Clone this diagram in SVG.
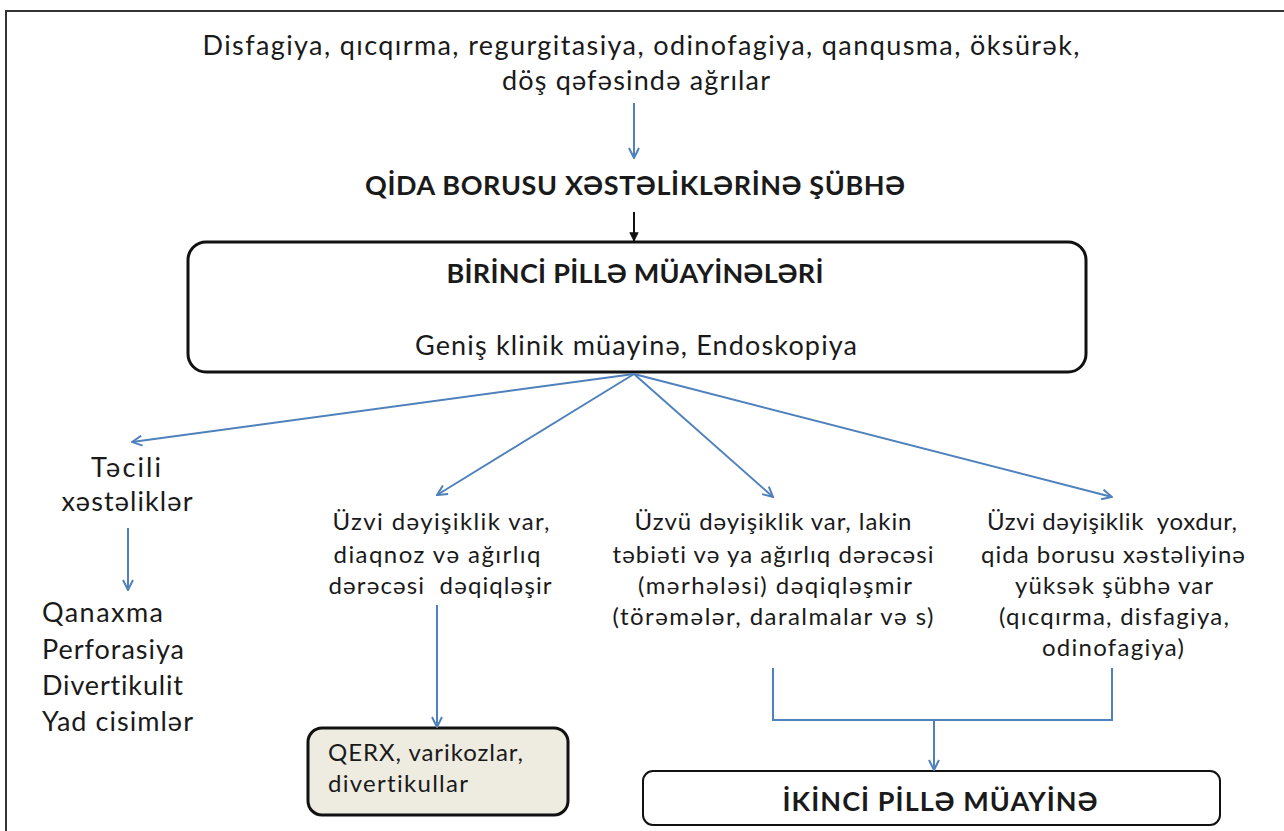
<svg xmlns="http://www.w3.org/2000/svg" width="1284" height="831" viewBox="0 0 1284 831">
<defs>
<style>
text{font-family:Lato,"Liberation Sans","Noto Sans",sans-serif;fill:#1a1a1a;white-space:pre;font-variant-ligatures:none}
.t26{font-size:27px}
.t23{font-size:24px}
.b{font-weight:bold;font-size:27px}
.c{text-anchor:middle}
.blue{stroke:#4F81BD;stroke-width:2;fill:none}
.box{stroke:#111;stroke-width:3;fill:#fff}
</style>
<marker id="ab" viewBox="0 0 12 12" refX="11" refY="6" markerWidth="12" markerHeight="12" markerUnits="userSpaceOnUse" orient="auto">
<path d="M1,1 L11,6 L1,11" fill="none" stroke="#4F81BD" stroke-width="2"/>
</marker>
<marker id="ak" viewBox="0 0 12 12" refX="11" refY="6" markerWidth="10" markerHeight="10" markerUnits="userSpaceOnUse" orient="auto">
<path d="M1,1 L11,6 L1,11 Z" fill="#111" stroke="#111" stroke-width="1"/>
</marker>
</defs>
<rect width="1284" height="831" fill="#fff"/>
<path d="M6,831 L6,11 L1284,11" fill="none" stroke="#333" stroke-width="2"/>

<g id="symptoms">
<text class="t26 c" x="641" y="55" textLength="877">Disfagiya, qıcqırma, regurgitasiya, odinofagiya, qanqusma, öksürək,</text>
<text class="t26 c" x="636" y="90" textLength="268">döş qəfəsində ağrılar</text>
</g>
<g id="suspicion">
<text class="b c" x="635" y="195" textLength="540">QİDA BORUSU XƏSTƏLİKLƏRİNƏ ŞÜBHƏ</text>
</g>
<g id="first-stage">
<rect class="box" x="188" y="242" width="898" height="130" rx="18"/>
<text class="b c" x="635" y="283" textLength="377">BİRİNCİ PİLLƏ MÜAYİNƏLƏRİ</text>
<text class="t26 c" x="636" y="355" textLength="442">Geniş klinik müayinə, Endoskopiya</text>
</g>
<g id="urgent">
<text class="t26 c" x="126" y="477" textLength="70">Təcili</text>
<text class="t26 c" x="127" y="511" textLength="131">xəstəliklər</text>
</g>
<g id="urgent-list">
<text class="t26" x="42" y="622" textLength="121">Qanaxma</text>
<text class="t26" x="42" y="659" textLength="142">Perforasiya</text>
<text class="t26" x="42" y="695" textLength="141">Divertikulit</text>
<text class="t26" x="42" y="731" textLength="151">Yad cisimlər</text>
</g>
<g id="organic-clear">
<text class="t23 c" x="441" y="530" textLength="217">Üzvi dəyişiklik var,</text>
<text class="t23 c" x="437" y="563" textLength="207">diaqnoz və ağırlıq</text>
<text class="t23 c" x="440" y="594" textLength="223">dərəcəsi  dəqiqləşir</text>
</g>
<g id="qerx">
<rect x="308" y="728" width="260" height="87" rx="14" fill="#EEECE1" stroke="#111" stroke-width="3"/>
<text class="t23" x="328" y="761" textLength="195">QERX, varikozlar,</text>
<text class="t23" x="328" y="792" textLength="140">divertikullar</text>
</g>
<g id="organic-unclear">
<text class="t23 c" x="773" y="530" textLength="277">Üzvü dəyişiklik var, lakin</text>
<text class="t23 c" x="773" y="563" textLength="321">təbiəti və ya ağırlıq dərəcəsi</text>
<text class="t23 c" x="775" y="594" textLength="274">(mərhələsi) dəqiqləşmir</text>
<text class="t23 c" x="773" y="625" textLength="321">(törəmələr, daralmalar və s)</text>
</g>
<g id="no-organic">
<text class="t23 c" x="1112" y="530" textLength="250">Üzvi dəyişiklik  yoxdur,</text>
<text class="t23 c" x="1113" y="563" textLength="264">qida borusu xəstəliyinə</text>
<text class="t23 c" x="1114" y="594" textLength="198">yüksək şübhə var</text>
<text class="t23 c" x="1114" y="625" textLength="230">(qıcqırma, disfagiya,</text>
<text class="t23 c" x="1113" y="656" textLength="142">odinofagiya)</text>
</g>
<g id="second-stage">
<rect x="643" y="771" width="577" height="54" rx="10" fill="#fff" stroke="#111" stroke-width="2"/>
<text class="b c" x="940" y="811" textLength="315">İKİNCİ PİLLƏ MÜAYİNƏ</text>
</g>

<g id="connectors">
<line class="blue" x1="634" y1="103" x2="634" y2="158" marker-end="url(#ab)"/>
<line x1="634" y1="212" x2="634" y2="241" stroke="#111" stroke-width="2" marker-end="url(#ak)"/>
<line class="blue" x1="634" y1="374" x2="132" y2="442" marker-end="url(#ab)"/>
<line class="blue" x1="634" y1="374" x2="437" y2="495" marker-end="url(#ab)"/>
<line class="blue" x1="634" y1="374" x2="773" y2="497" marker-end="url(#ab)"/>
<line class="blue" x1="634" y1="374" x2="1112" y2="497" marker-end="url(#ab)"/>
<line class="blue" x1="128" y1="528" x2="128" y2="590" marker-end="url(#ab)"/>
<line class="blue" x1="437" y1="605" x2="437" y2="727" marker-end="url(#ab)"/>
<path class="blue" d="M773,668 L773,720 L1112,720 L1112,668"/>
<line class="blue" x1="934" y1="720" x2="934" y2="770" marker-end="url(#ab)"/>
</g>
</svg>
